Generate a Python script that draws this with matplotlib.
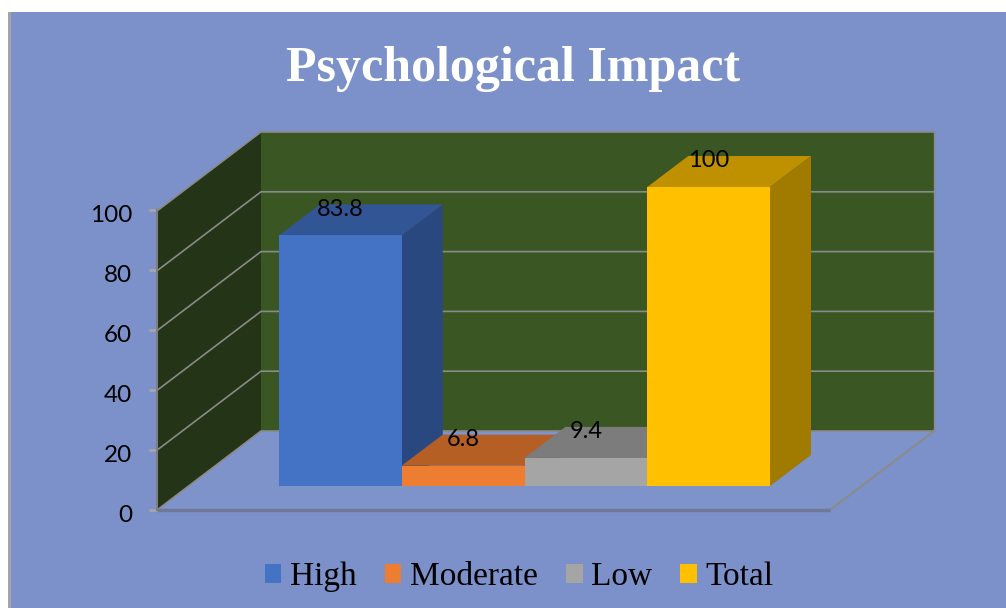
import matplotlib
matplotlib.use("Agg")
import matplotlib.pyplot as plt
from matplotlib.patches import Polygon, Patch, Rectangle
from matplotlib.transforms import ScaledTranslation

# data
categories = ["High", "Moderate", "Low", "Total"]
values = [83.8, 6.8, 9.4, 100]
y_ticks = [0, 20, 40, 60, 80, 100]
title = "Psychological Impact"

W, H = 1006, 608
BG = "#7c91c9"
BACK_WALL = "#3a5723"
SIDE_WALL = "#243416"
GRID = "#8a8a8a"

front_colors = ["#4472c4", "#ed7d31", "#a5a5a5", "#ffc000"]
top_colors = ["#325596", "#b55f24", "#7c7c7c", "#bf9000"]
side_colors = ["#2a4880", "#a0521f", "#6a6a6a", "#a17a00"]

fig = plt.figure(figsize=(W / 100, H / 100), dpi=100, facecolor="white")

# coloured panel with the grey strip on its left
fig.add_artist(Rectangle((8 / W, 0), (W - 8) / W, 1 - 12 / H, transform=fig.transFigure,
                         facecolor=BG, edgecolor="none", zorder=-2))
fig.add_artist(Rectangle((8 / W, 0), 3 / W, 1 - 12 / H, transform=fig.transFigure,
                         facecolor="#a3a3a8", edgecolor="none", zorder=-1))

# main axes: x in bar widths, y in value units, 0 at the front foot of the bars
x_scale = 122.75  # px per bar
y_scale = 2.99    # px per value unit
ax = fig.add_axes([0, 0, 1, 1])
ax.set_xlim(-279 / x_scale, (W - 279) / x_scale)
ax.set_ylim(-(H - 486) / y_scale, 486 / y_scale)
ax.axis("off")

# depth of the chart box and of the bars
box_dx, box_dy = 104 / x_scale, 79 / y_scale
bar_dx, bar_dy = 41 / x_scale, 31 / y_scale
x0 = (157 - 279) / x_scale
x1 = (830 - 279) / x_scale
y0 = (486 - 510) / y_scale
top = y0 + max(y_ticks)

# walls and floor
ax.add_patch(Polygon([(x0 + box_dx, y0 + box_dy), (x1 + box_dx, y0 + box_dy),
                      (x1 + box_dx, top + box_dy), (x0 + box_dx, top + box_dy)],
                     facecolor=BACK_WALL, edgecolor="none"))
ax.add_patch(Polygon([(x0, y0), (x0 + box_dx, y0 + box_dy),
                      (x0 + box_dx, top + box_dy), (x0, top)],
                     facecolor=SIDE_WALL, edgecolor="none"))
ax.add_patch(Polygon([(x0, y0), (x1, y0), (x1 + box_dx, y0 + box_dy), (x0 + box_dx, y0 + box_dy)],
                     facecolor="#7e93ca", edgecolor="none"))

# gridlines run along the side wall, then the back wall
for t in y_ticks:
    y = y0 + t
    ax.plot([x0, x0 + box_dx, x1 + box_dx], [y, y + box_dy, y + box_dy],
            color=GRID, lw=1.2, solid_joinstyle="miter")
ax.plot([x1 + box_dx, x1 + box_dx], [y0 + box_dy, top + box_dy], color=GRID, lw=1)
ax.plot([x1, x1 + box_dx], [y0, y0 + box_dy], color=GRID, lw=1.5)
ax.plot([x0, x1], [y0, y0], color="#6f7896", lw=2.5, solid_capstyle="butt")

# bars, left to right so each one covers the side of the previous
for i, v in enumerate(values):
    ax.add_patch(Polygon([(i + 1, 0), (i + 1 + bar_dx, bar_dy), (i + 1 + bar_dx, v + bar_dy), (i + 1, v)],
                         facecolor=side_colors[i], edgecolor="none", zorder=3))
    ax.add_patch(Polygon([(i, v), (i + 1, v), (i + 1 + bar_dx, v + bar_dy), (i + bar_dx, v + bar_dy)],
                         facecolor=top_colors[i], edgecolor="none", zorder=3))
    ax.bar(i + 0.5, v, width=1, color=front_colors[i], linewidth=0, zorder=3)
for i, v in enumerate(values):
    ax.text(i + 0.5, v + 8.8, str(v), ha="center", va="center", fontsize=17,
            family="Lato", color="black", zorder=5)

# value axis sits on the front edge of the side wall
tick_ax = fig.add_axes([157 / W, (H - 510) / H, 0.001, 300 / H])
tick_ax.set_ylim(0, 100)
tick_ax.set_yticks(y_ticks)
tick_ax.set_xticks([])
tick_ax.patch.set_visible(False)
for name in ["top", "right", "bottom"]:
    tick_ax.spines[name].set_visible(False)
tick_ax.spines["left"].set_color("#7f7f7f")
tick_ax.spines["left"].set_linewidth(1.5)
tick_ax.tick_params(axis="y", length=6, width=2, color="#a6a6a6", pad=12, labelsize=17.5)
label_shift = ScaledTranslation(0, -3 / 100, fig.dpi_scale_trans)
for lab in tick_ax.get_yticklabels():
    lab.set_family("Lato")
    lab.set_transform(lab.get_transform() + label_shift)

fig.text(513 / W, 1 - 69 / H, title, ha="center", va="center", color="white",
         fontsize=36, fontweight="bold", family="Liberation Serif")

handles = [Patch(facecolor=c, edgecolor="none", label=n) for c, n in zip(front_colors, categories)]
fig.legend(handles=handles, loc="center", bbox_to_anchor=(519 / W, 1 - 577 / H), ncol=4,
           frameon=False, handlelength=0.5, handleheight=0.5, handletextpad=0.25,
           columnspacing=0.85, prop={"family": "Liberation Serif", "size": 24})

fig.savefig("out.png", dpi=100)
